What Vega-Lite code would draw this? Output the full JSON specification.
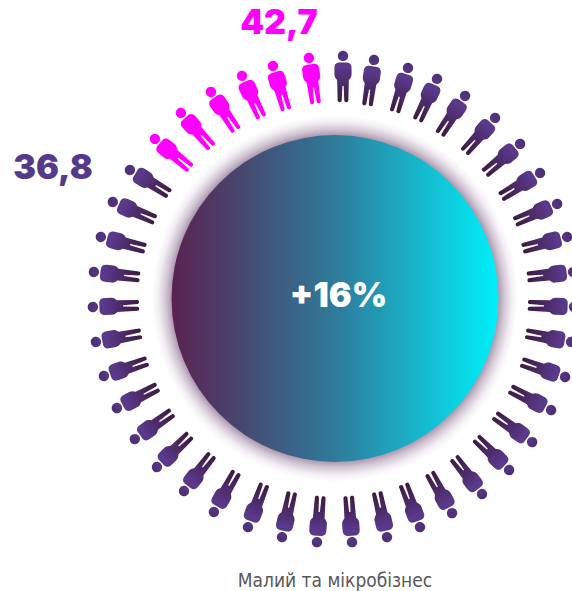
{
"$schema":"https://vega.github.io/schema/vega-lite/v6.json",
"width":572,"height":591,"padding":0,"autosize":"none","background":"white",
"view":{"stroke":null},
"datasets":{
"disc":[{"name":"Малий та мікробізнес","x":335,"y":298.5}],
"labels":[{"role":"old","text":"36,8","x":53,"y":169},{"role":"new","text":"42,7","x":279,"y":24},{"role":"change","text":"+16%","x":338.5,"y":297},{"role":"title","text":"Малий та мікробізнес","x":335,"y":581}],
"people":[
{"k":0,"group":"36,8","x":343,"y":76.7,"angle":0},{"k":1,"group":"36,8","x":371,"y":80.5,"angle":8.37},{"k":2,"group":"36,8","x":402,"y":87.8,"angle":16.74},{"k":3,"group":"36,8","x":428.2,"y":97.7,"angle":25.12},{"k":4,"group":"36,8","x":453.6,"y":113.3,"angle":33.49},{"k":5,"group":"36,8","x":481.2,"y":133.4,"angle":41.86},{"k":6,"group":"36,8","x":504.1,"y":157.2,"angle":50.23},{"k":7,"group":"36,8","x":522.3,"y":183.8,"angle":58.6},{"k":8,"group":"36,8","x":538,"y":212.1,"angle":66.98},{"k":9,"group":"36,8","x":547,"y":242.2,"angle":75.35},{"k":10,"group":"36,8","x":552.4,"y":274.3,"angle":83.72},{"k":11,"group":"36,8","x":553.3,"y":306.2,"angle":92.09},{"k":12,"group":"36,8","x":550.6,"y":338.2,"angle":100.47},{"k":13,"group":"36,8","x":545.4,"y":370.3,"angle":108.84},{"k":14,"group":"36,8","x":532.6,"y":400.5,"angle":117.21},{"k":15,"group":"36,8","x":515.2,"y":430,"angle":125.58},{"k":16,"group":"36,8","x":494.1,"y":455.6,"angle":133.95},{"k":17,"group":"36,8","x":469.3,"y":477.6,"angle":142.33},{"k":18,"group":"36,8","x":441.9,"y":495,"angle":150.7},{"k":19,"group":"36,8","x":412.6,"y":507.7,"angle":159.07},{"k":20,"group":"36,8","x":382.5,"y":516.8,"angle":167.44},{"k":21,"group":"36,8","x":350.5,"y":521.4,"angle":175.81},{"k":22,"group":"36,8","x":318.5,"y":521.4,"angle":184.19},{"k":23,"group":"36,8","x":286.5,"y":516.8,"angle":192.56},{"k":24,"group":"36,8","x":255.4,"y":507.7,"angle":200.93},{"k":25,"group":"36,8","x":224.1,"y":493.9,"angle":209.3},{"k":26,"group":"36,8","x":196.7,"y":474.6,"angle":217.67},{"k":27,"group":"36,8","x":171.9,"y":452.6,"angle":226.05},{"k":28,"group":"36,8","x":151.8,"y":427,"angle":234.42},{"k":29,"group":"36,8","x":135.4,"y":398.5,"angle":242.79},{"k":30,"group":"36,8","x":123.6,"y":369.3,"angle":251.16},{"k":31,"group":"36,8","x":116.4,"y":338.2,"angle":259.53},{"k":32,"group":"36,8","x":113.7,"y":306.2,"angle":267.91},{"k":33,"group":"36,8","x":114.6,"y":274.3,"angle":276.28},{"k":34,"group":"36,8","x":121,"y":242.2,"angle":284.65},{"k":35,"group":"36,8","x":132,"y":210.1,"angle":293.02},{"k":36,"group":"36,8","x":147.7,"y":180.8,"angle":301.4},
{"k":37,"group":"42,7","x":170.9,"y":152.2,"angle":309.77},{"k":38,"group":"42,7","x":194.8,"y":128.4,"angle":318.14},{"k":39,"group":"42,7","x":222.4,"y":109.3,"angle":326.51},{"k":40,"group":"42,7","x":250.8,"y":94.7,"angle":334.88},{"k":41,"group":"42,7","x":279,"y":85.8,"angle":343.26},{"k":42,"group":"42,7","x":312,"y":78.5,"angle":351.63}
]},
"encoding":{
"x":{"field":"x","type":"quantitative","scale":{"domain":[0,572],"nice":false,"zero":false},"axis":null},
"y":{"field":"y","type":"quantitative","scale":{"domain":[0,591],"nice":false,"zero":false,"reverse":true},"axis":null}
},
"layer":[
{"data":{"name":"disc"},"mark":{"type":"point","shape":"circle","filled":true,"size":134000,"opacity":1,"fill":{"gradient":"radial","x1":0.5,"y1":0.5,"x2":0.5,"y2":0.5,"r1":0,"r2":0.5,"stops":[{"offset":0,"color":"#a58fa8"},{"offset":0.885,"color":"#a58fa8"},{"offset":0.925,"color":"#d2c6d4"},{"offset":0.965,"color":"#f2eef3"},{"offset":1,"color":"#ffffff"}]}}},
{"data":{"name":"disc"},"mark":{"type":"point","shape":"circle","filled":true,"size":106900,"opacity":1,"fill":{"gradient":"linear","x1":0,"y1":0,"x2":1,"y2":0,"stops":[{"offset":0,"color":"#5a2250"},{"offset":0.5,"color":"#2f7a9a"},{"offset":1,"color":"#00f0fa"}]}}},
{"data":{"name":"people"},"transform":[{"filter":"datum.group === '36,8'"}],"mark":{"type":"point","filled":true,"size":2704,"opacity":1,"shape":"M0,-1 C0.11,-1 0.2,-0.91 0.2,-0.8 C0.2,-0.69 0.11,-0.6 0,-0.6 C-0.11,-0.6 -0.2,-0.69 -0.2,-0.8 C-0.2,-0.91 -0.11,-1 0,-1 Z M-0.14,-0.55 L0.14,-0.55 C0.27,-0.55 0.33,-0.46 0.33,-0.34 L0.33,-0.08 C0.33,0.02 0.27,0.08 0.225,0.13 L0.205,0.92 C0.2,1 0.06,1 0.05,0.92 L0.025,0.36 L-0.025,0.36 L-0.05,0.92 C-0.06,1 -0.2,1 -0.205,0.92 L-0.225,0.13 C-0.27,0.08 -0.33,0.02 -0.33,-0.08 L-0.33,-0.34 C-0.33,-0.46 -0.27,-0.55 -0.14,-0.55 Z","fill":{"gradient":"linear","x1":0,"y1":0,"x2":0,"y2":1,"stops":[{"offset":0,"color":"#4d2f74"},{"offset":0.3,"color":"#5a3a8c"},{"offset":1,"color":"#3c1a40"}]}},"encoding":{"angle":{"field":"angle","type":"quantitative","scale":null}}},
{"data":{"name":"people"},"transform":[{"filter":"datum.group === '42,7'"}],"mark":{"type":"point","filled":true,"size":2704,"opacity":1,"color":"#ff00ff","shape":"M0,-1 C0.11,-1 0.2,-0.91 0.2,-0.8 C0.2,-0.69 0.11,-0.6 0,-0.6 C-0.11,-0.6 -0.2,-0.69 -0.2,-0.8 C-0.2,-0.91 -0.11,-1 0,-1 Z M-0.14,-0.55 L0.14,-0.55 C0.27,-0.55 0.33,-0.46 0.33,-0.34 L0.33,-0.08 C0.33,0.02 0.27,0.08 0.225,0.13 L0.205,0.92 C0.2,1 0.06,1 0.05,0.92 L0.025,0.36 L-0.025,0.36 L-0.05,0.92 C-0.06,1 -0.2,1 -0.205,0.92 L-0.225,0.13 C-0.27,0.08 -0.33,0.02 -0.33,-0.08 L-0.33,-0.34 C-0.33,-0.46 -0.27,-0.55 -0.14,-0.55 Z"},"encoding":{"angle":{"field":"angle","type":"quantitative","scale":null}}},
{"data":{"name":"labels"},"transform":[{"filter":"datum.role === 'old'"}],"mark":{"type":"text","font":"Inter","fontWeight":900,"fontSize":34,"color":"#553a8c","align":"center","baseline":"middle"},"encoding":{"text":{"field":"text"}}},
{"data":{"name":"labels"},"transform":[{"filter":"datum.role === 'new'"}],"mark":{"type":"text","font":"Inter","fontWeight":900,"fontSize":34,"color":"#ff00ff","align":"center","baseline":"middle"},"encoding":{"text":{"field":"text"}}},
{"data":{"name":"labels"},"transform":[{"filter":"datum.role === 'change'"}],"mark":{"type":"text","font":"Inter","fontWeight":900,"fontSize":34,"color":"#ffffff","align":"center","baseline":"middle"},"encoding":{"text":{"field":"text"}}},
{"data":{"name":"labels"},"transform":[{"filter":"datum.role === 'title'"}],"mark":{"type":"text","font":"'DejaVu Sans Condensed', Roboto, sans-serif","fontSize":19,"color":"#58585a","align":"center","baseline":"middle"},"encoding":{"text":{"field":"text"}}}
]
}
